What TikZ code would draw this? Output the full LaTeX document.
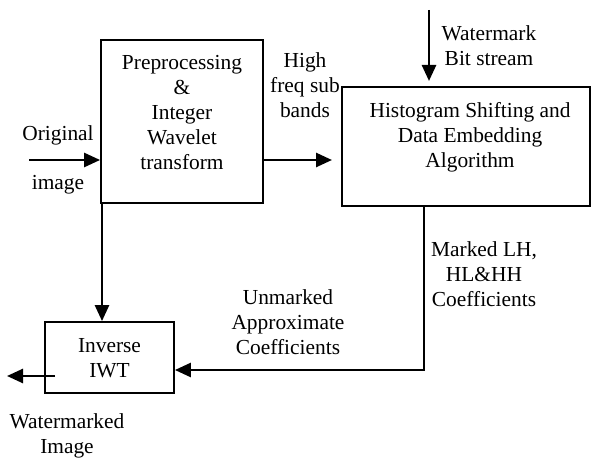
\documentclass[tikz,border=0pt]{standalone}
\usepackage{fontspec}
\setmainfont{Liberation Serif}
\usetikzlibrary{arrows.meta}
\begin{document}
\begin{tikzpicture}[x=0.5pt,y=-0.5pt,
  box/.style={draw, line width=0.9pt, inner sep=0pt},
  lbl/.style={align=center, inner sep=0pt, font=\fontsize{10.7}{12.4}\selectfont},
  arr/.style={line width=1.3pt, -{Triangle[length=8pt,width=7pt]}}]
\useasboundingbox (0,0) rectangle (593,458);

% processing blocks
\node[box, minimum width=81pt, minimum height=81.5pt] (pre) at (182,121.5) {};
\node[lbl] (pretxt) at (182,112.5) {Preprocessing\\\&\\Integer\\Wavelet\\transform};

\node[box, minimum width=124pt, minimum height=59.5pt] (hist) at (466,146.5) {};
\node[lbl] (histtxt) at (470,137) {Histogram Shifting and\\Data Embedding\\Algorithm};

\node[box, minimum width=64.5pt, minimum height=35.5pt] (inv) at (109.5,357.5) {};
\node[lbl] (invtxt) at (109.5,358.5) {Inverse\\IWT};

% free ends of the connectors
\coordinate (orig) at (29,160);
\coordinate (hf) at (332,160);
\coordinate (wm) at (429,10);
\coordinate (wmtip) at (429,81);
\coordinate (vx) at (102,0);
\coordinate (fb) at (424,370);
\coordinate (outs) at (55,376);
\coordinate (out) at (7,376);

% connectors
\draw[arr] (orig) -- (orig -| pre.west);
\draw[arr] (pre.east |- hf) -- (hf);
\draw[arr] (wm) -- (wmtip);
\draw[arr] (pre.south -| vx) -- (inv.north -| vx);
\draw[arr] (hist.south -| fb) -- (fb) -- (fb -| inv.east);
\draw[arr] (outs) -- (out);

% labels
\node[lbl] (lorig) at (58,135) {Original};
\node[lbl] (limg) at (58,185) {image};
\node[lbl] (lhf) at (305,85) {High\\freq sub\\bands};
\node[lbl] (lwm) at (489,45.5) {Watermark\\Bit stream};
\node[lbl] (lmk) at (484,274) {Marked LH,\\HL\&HH\\Coefficients};
\node[lbl] (lun) at (288,322) {Unmarked\\Approximate\\Coefficients};
\node[lbl] (lout) at (67,435.5) {Watermarked\\Image};
\end{tikzpicture}
\end{document}
